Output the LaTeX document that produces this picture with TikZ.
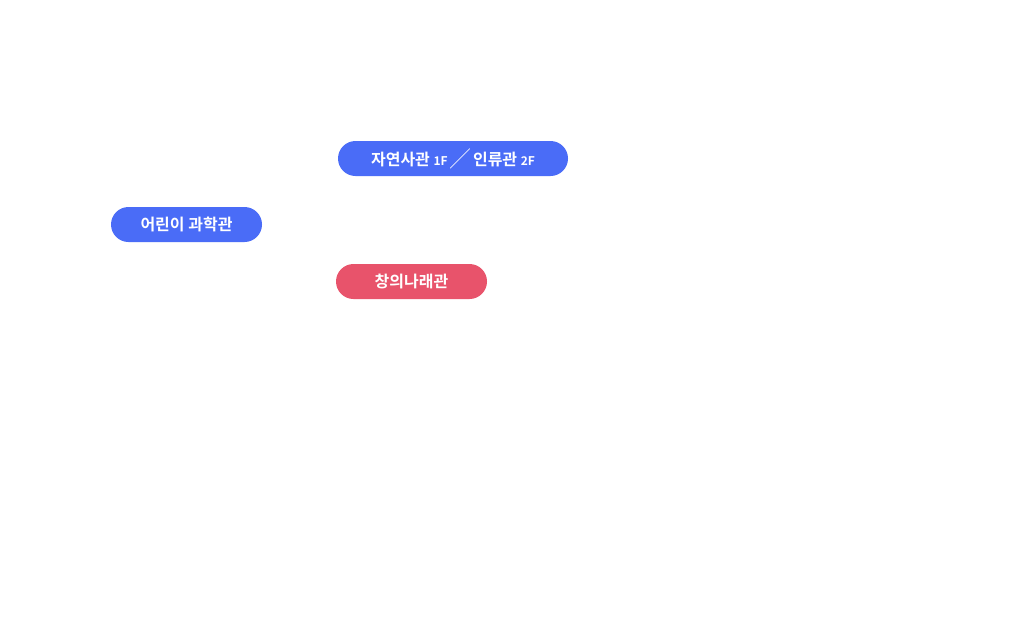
\documentclass[tikz,border=0pt]{standalone}
\usepackage{fontspec}
\setmainfont{Noto Sans CJK KR}[BoldFont={Noto Sans CJK KR Bold}]
\definecolor{pblue}{HTML}{4A6CF7}
\definecolor{pred}{HTML}{E8536B}
\tikzset{pill/.style={rounded corners=17.5pt,minimum height=35pt,text=white,font=\bfseries\fontsize{16}{18}\selectfont,inner sep=0pt,anchor=center}}
\begin{document}
\begin{tikzpicture}[x=1pt,y=-1pt]
\useasboundingbox[fill=white] (0,0) rectangle (1035,616);
\node[pill,fill=pblue,minimum width=230pt] (a) at (453,158.5) {자연사관 {\fontsize{12}{14}\selectfont 1F}\,\raisebox{-1pt}{\mdseries\fontsize{20}{20}\selectfont ╱}\,인류관 {\fontsize{12}{14}\selectfont 2F}};
\node[pill,fill=pblue,minimum width=151pt] (b) at (186.5,224.5) {어린이 과학관};
\node[pill,fill=pred,minimum width=151pt] (c) at (411.5,281.5) {창의나래관};
\end{tikzpicture}
\end{document}
